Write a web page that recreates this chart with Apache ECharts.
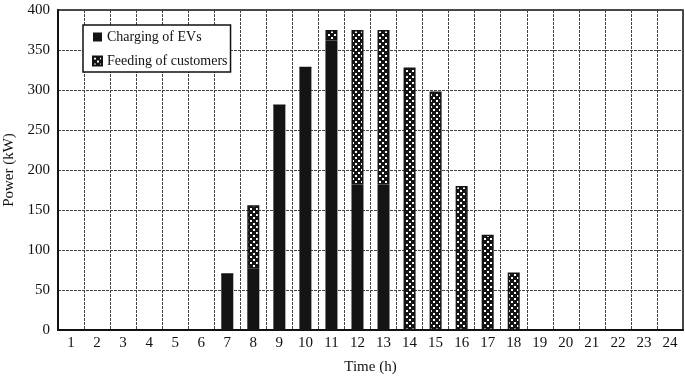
<!DOCTYPE html>
<html>
<head>
    <meta charset="utf-8">
    <title>Power</title>
    <script src="https://cdn.jsdelivr.net/npm/echarts@6/dist/echarts.min.js"></script>
    <style>
        html, body { margin: 0; padding: 0; background: #fff; }
        #charts { width: 685px; height: 377px; }
    </style>
</head>
<body>
<div id="charts"></div>
<script>
    // 数据
    var hours = ['1', '2', '3', '4', '5', '6', '7', '8', '9', '10', '11', '12',
        '13', '14', '15', '16', '17', '18', '19', '20', '21', '22', '23', '24'];
    var charging = [0, 0, 0, 0, 0, 0, 70, 77, 281, 328, 362, 182, 182, 0, 0, 0, 0, 0, 0, 0, 0, 0, 0, 0];
    var feeding = [0, 0, 0, 0, 0, 0, 0, 79, 0, 0, 13, 193, 193, 328, 298, 180, 119, 72, 0, 0, 0, 0, 0, 0];
    var yTicks = [0, 50, 100, 150, 200, 250, 300, 350, 400];

    // checker pattern
    var tile = document.createElement('canvas');
    tile.width = 6;
    tile.height = 6;
    var ctx = tile.getContext('2d');
    ctx.fillStyle = '#141414';
    ctx.fillRect(0, 0, 6, 6);
    ctx.fillStyle = '#ffffff';
    ctx.fillRect(1, 1, 2, 2);
    ctx.fillRect(4, 4, 2, 2);

    var font = 'Liberation Serif';
    var myChart = echarts.init(document.getElementById('charts'), null, {renderer: 'canvas'});

    var option = {
        backgroundColor: '#fff',
        animation: false,
        textStyle: {fontFamily: font, color: '#111'},
        grid: {
            left: 58, right: 2, top: 10, bottom: 47,
            outerBoundsMode: 'none',
            containLabel: false,
            show: true, borderColor: '#111', borderWidth: 1.5
        },
        legend: {
            left: 83, top: 25,
            orient: 'vertical',
            icon: 'rect',
            backgroundColor: '#fff',
            borderColor: '#111',
            borderWidth: 1.5,
            padding: [5, 3, 4, 9],
            itemWidth: 9,
            itemHeight: 9,
            itemGap: 10,
            textStyle: {fontFamily: font, fontSize: 14, color: '#111', lineHeight: 14}
        },
        xAxis: {
            type: 'category',
            data: hours,
            name: 'Time (h)',
            nameLocation: 'middle',
            nameGap: 30,
            nameTextStyle: {fontFamily: font, fontSize: 15, color: '#111'},
            axisLine: {lineStyle: {color: '#111', width: 2}},
            axisTick: {show: false},
            axisLabel: {fontFamily: font, fontSize: 15, color: '#111', margin: 6, interval: 0},
            splitLine: {show: true, interval: 0, lineStyle: {color: '#444', width: 1, type: [3, 1]}}
        },
        yAxis: {
            type: 'value',
            min: yTicks[0],
            max: yTicks[yTicks.length - 1],
            interval: 50,
            name: 'Power (kW)',
            nameLocation: 'middle',
            nameGap: 40,
            nameTextStyle: {fontFamily: font, fontSize: 15, color: '#111'},
            axisLine: {show: true, lineStyle: {color: '#111', width: 2}},
            axisTick: {show: false},
            axisLabel: {fontFamily: font, fontSize: 15, color: '#111', margin: 8},
            splitLine: {show: true, lineStyle: {color: '#444', width: 1, type: [3, 1]}}
        },
        series: [
            {
                name: 'Charging of EVs',
                type: 'bar',
                stack: 'p',
                barWidth: 12,
                itemStyle: {color: '#141414'},
                data: charging
            },
            {
                name: 'Feeding of customers',
                type: 'bar',
                stack: 'p',
                barWidth: 12,
                itemStyle: {
                    color: {image: tile, repeat: 'repeat'},
                    borderColor: '#141414',
                    borderWidth: 1.5
                },
                data: feeding
            }
        ]
    };
    myChart.setOption(option);
</script>
</body>
</html>
